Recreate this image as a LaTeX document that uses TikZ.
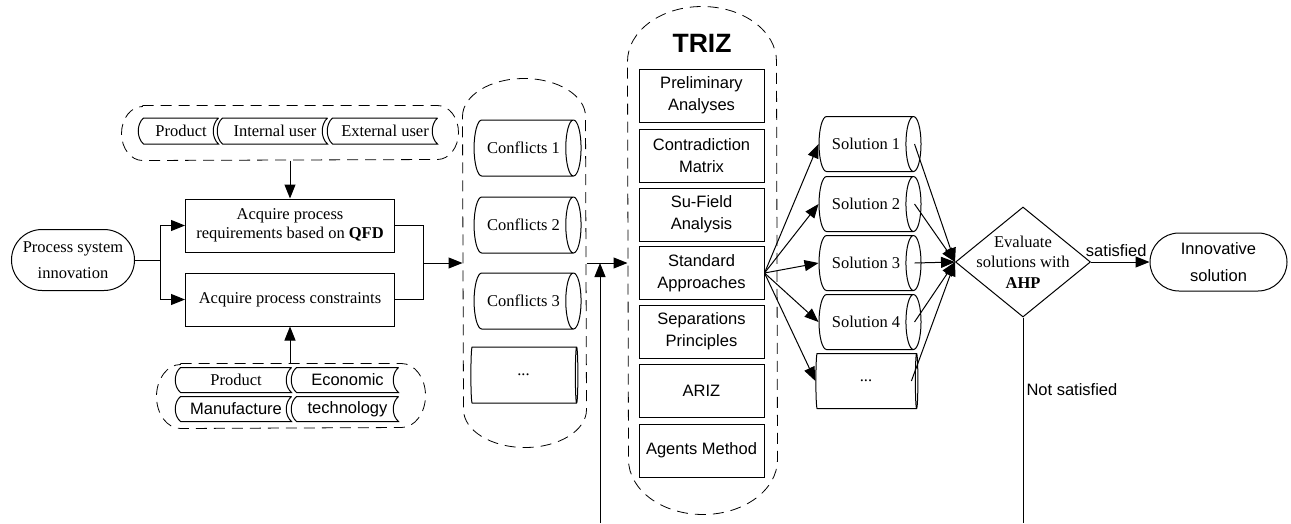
\documentclass[tikz,border=0pt]{standalone}
\usepackage{fontspec}
\setmainfont{Liberation Serif}
\setsansfont{Liberation Sans}
\usetikzlibrary{arrows.meta,shapes.geometric,shapes.misc}
\tikzset{
  txt/.style={font=\fontsize{16.5}{19}\selectfont},
  arr/.style={-{Triangle[length=14pt,width=11pt]}},
  proc/.style={draw,txt,minimum width=209pt,minimum height=53pt,align=center,inner sep=2pt},
  term/.style={draw,rounded rectangle,align=center,inner sep=2pt},
  tool/.style={draw,minimum width=125pt,minimum height=53pt,align=center,inner sep=2pt,
    font=\sffamily\fontsize{16.5}{22}\selectfont},
  store/.style={txt,minimum height=25pt,inner sep=0pt},
  drum/.style={draw,txt,cylinder,aspect=1.3,inner sep=0pt},
  decision/.style={draw,diamond,minimum width=135pt,minimum height=110pt,inner sep=0pt},
  grp/.style={dash pattern=on 11pt off 7pt,line width=0.8pt},
}
% dashed groups round a named node
\newcommand\hgroup[3]{\draw[grp] ([xshift=#2]#1.north west) -- ([xshift=-#2]#1.north east)
  arc[start angle=90,end angle=-90,x radius=#2,y radius=#3] -- ([xshift=#2]#1.south west)
  arc[start angle=270,end angle=90,x radius=#2,y radius=#3] -- cycle;}
\newcommand\vgroup[3]{\draw[grp] ([yshift=-#3]#1.north west)
  arc[start angle=180,end angle=0,x radius=#2,y radius=#3] -- ([yshift=#3]#1.south east)
  arc[start angle=0,end angle=-180,x radius=#2,y radius=#3] -- cycle;}
\begin{document}
\begin{tikzpicture}[x=1pt,y=-1pt,line width=1pt]
\useasboundingbox (0,0) rectangle (1291,523);
% left part
\node[term,txt,font=\fontsize{16.5}{26}\selectfont,minimum width=127pt,minimum height=61pt] (psi) at (73,260) {Process system\\innovation};
\node[proc] (qfd) at (290,225.5) {Acquire process\\requirements based on \textbf{QFD}};
\node[proc] (cons) at (290,299.5) {Acquire process constraints};
\node[minimum width=336pt,minimum height=54pt] (ugrp) at (290,133) {};
\node[store,minimum width=74pt] (prod) at (181,131) {Product};
\node[store,minimum width=104pt] (iuser) at (275,131) {Internal user};
\node[store,minimum width=104pt] (euser) at (385,131) {External user};
\node[minimum width=268pt,minimum height=64pt] (bgrp) at (291,396) {};
\node[store,minimum width=110pt,minimum height=24pt] (prod2) at (236,380) {Product};
\node[store,minimum width=101pt,minimum height=24pt,font=\sffamily\fontsize{16.5}{19}\selectfont] (econ) at (347.5,380) {Economic};
\node[store,minimum width=110pt,minimum height=24pt,font=\sffamily\fontsize{16.5}{19}\selectfont] (manu) at (236,409) {Manufacture};
\node[store,minimum width=101pt,minimum height=24pt,font=\sffamily\fontsize{16.5}{19}\selectfont] (tech) at (347.5,409) {technology};
\foreach \n in {prod,iuser,euser,prod2,econ,manu,tech}
  \draw (\n.north east) -- (\n.north west) .. controls +(-7,6) and +(-7,-6) .. (\n.south west)
    -- (\n.south east) .. controls +(-7,-6) and +(-7,6) .. (\n.north east);
\hgroup{ugrp}{21pt}{27pt}
\hgroup{bgrp}{24pt}{32pt}
% conflicts
\node[minimum width=123pt,minimum height=368pt] (cgrp) at (524.5,263) {};
\node[drum,minimum height=107pt,minimum width=56pt] (c1) at (523.5,148) {Conflicts 1};
\node[drum,minimum height=107pt,minimum width=56pt] (c2) at (523.5,225) {Conflicts 2};
\node[drum,minimum height=107pt,minimum width=56pt] (c3) at (523.5,301) {Conflicts 3};
\node[drum,minimum height=107pt,minimum width=56pt] (c4) at (523.5,375) {...};
\vgroup{cgrp}{61.5pt}{38pt}
% TRIZ
\node[minimum width=149pt,minimum height=507pt] (tgrp) at (702.5,260.5) {};
\node[font=\sffamily\bfseries\fontsize{26.5}{30}\selectfont] (trizlbl) at (702,43) {TRIZ};
\node[tool] (pre) at (701.5,95.5) {Preliminary\\Analyses};
\node[tool] (mat) at (701.5,155.5) {Contradiction\\Matrix};
\node[tool] (suf) at (701.5,214.5) {Su-Field\\Analysis};
\node[tool] (std) at (701.5,273) {Standard\\Approaches};
\node[tool] (sep) at (701.5,331.5) {Separations\\Principles};
\node[tool] (ariz) at (701.5,391) {ARIZ};
\node[tool] (agt) at (701.5,450.5) {Agents Method};
\vgroup{tgrp}{74.5pt}{55pt}
% solutions
\foreach \i/\y/\t in {1/144/Solution 1,2/204/Solution 2,3/263/Solution 3,4/322/Solution 4,5/381/{...}}
  \node[drum,minimum height=102pt,minimum width=55pt] (sol\i) at (866,\y) {\t};
\node[decision,label={[align=center,txt,font=\fontsize{16.5}{20.5}\selectfont]center:Evaluate\\solutions with\\\textbf{AHP}}] (eval) at (1023,262) {};
\node[term,minimum width=141pt,minimum height=58pt,font=\sffamily\fontsize{16.5}{27}\selectfont] (innov) at (1218.5,262) {Innovative\\solution};
\coordinate (split) at (160,260);
\coordinate (merge) at (423,263);
\coordinate (loopin) at (600,523);
\coordinate (loopout) at (1023,523);
% connectors
\draw (psi.east) -- (split);
\draw[arr] (split) |- (qfd.west);
\draw[arr] (split) |- (cons.west);
\draw (qfd.east) -| (merge);
\draw (cons.east) -| (merge);
\draw[arr] (merge) -- (cgrp.west);
\draw[arr] (ugrp.south -| qfd.north) -- (qfd.north);
\draw[arr] (bgrp.north -| cons.south) -- (cons.south);
\draw[arr] (cgrp.east) -- (cgrp.east -| tgrp.west);
\draw[arr] (loopin) -- (loopin |- cgrp.east);
\foreach \i in {1,...,5} \draw[arr] (std.east) -- (sol\i.west);
\foreach \i in {1,...,5} \draw[arr] ([xshift=-7pt]sol\i.east) -- (eval.west);
\draw[arr] (eval.east) -- node[above,font=\sffamily\fontsize{16.5}{19}\selectfont,inner sep=5pt,xshift=-4pt] {satisfied} (innov.west);
\draw (eval.south) -- node[pos=0.35,right,font=\sffamily\fontsize{16.5}{19}\selectfont,inner sep=3pt] {Not satisfied} (loopout);
\end{tikzpicture}
\end{document}
